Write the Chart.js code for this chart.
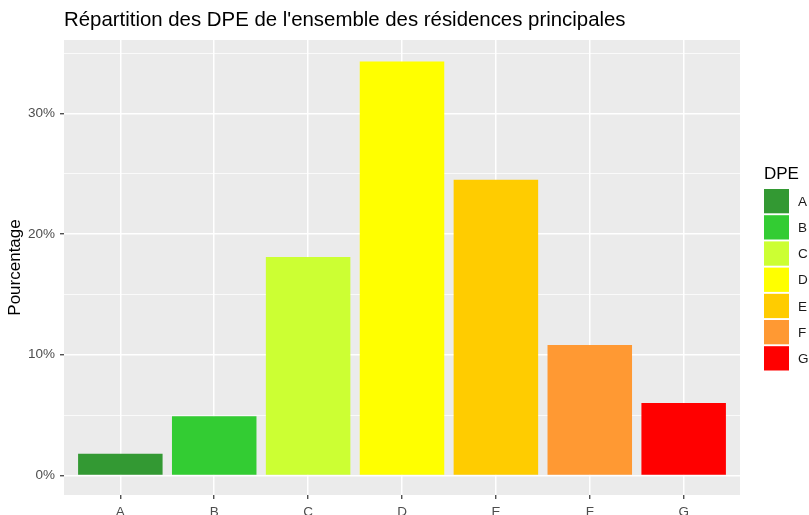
<!DOCTYPE html>
<html>
<head>
<meta charset="utf-8">
<script src="https://cdn.jsdelivr.net/npm/chart.js@4.4.1/dist/chart.umd.min.js"></script>
<style>
    html, body { margin: 0; padding: 0; background: #ffffff; }
    #wrap { width: 809px; height: 515px; }
</style>
</head>
<body>
<div id="wrap"><canvas id="dpeChart" width="809" height="515"></canvas></div>
<script>
    // DPE classes and their share of main residences (%)
    const categories = ['A', 'B', 'C', 'D', 'E', 'F', 'G'];
    const shares = [1.8, 4.9, 18.1, 34.3, 24.5, 10.8, 6.0];
    const barColors = ['#339933', '#33CC33', '#CCFF33', '#FFFF00', '#FFCC00', '#FF9933', '#FF0000'];
    const yTickValues = [0, 5, 10, 15, 20, 25, 30, 35];

    const FONT = "'Liberation Sans', Arial, sans-serif";

    // grey plotting panel behind everything
    const panelBackground = {
        id: 'panelBackground',
        beforeDraw(chart) {
            const { ctx, chartArea: a } = chart;
            ctx.save();
            ctx.fillStyle = '#EBEBEB';
            ctx.fillRect(a.left, a.top, a.right - a.left, a.bottom - a.top);
            ctx.restore();
        }
    };

    // ggplot-like legend on the right
    const sideLegend = {
        id: 'sideLegend',
        afterDraw(chart) {
            const { ctx } = chart;
            const x = 764, top = 189, pitch = 26.2, keyW = 25, keyH = 24.3;
            ctx.save();
            ctx.fillStyle = '#000000';
            ctx.font = '17px ' + FONT;
            ctx.textAlign = 'left';
            ctx.textBaseline = 'alphabetic';
            ctx.fillText('DPE', x, 179);

            ctx.font = '13.5px ' + FONT;
            ctx.textBaseline = 'middle';
            categories.forEach((c, i) => {
                const y = top + i * pitch;
                ctx.fillStyle = barColors[i];
                ctx.fillRect(x, y, keyW, keyH);
                ctx.fillStyle = '#1a1a1a';
                ctx.fillText(c, 798, y + keyH / 2 + 1);
            });
            ctx.restore();
        }
    };

    new Chart(document.getElementById('dpeChart'), {
        type: 'bar',
        data: {
            datasets: [
                {
                    data: categories.map((c, i) => ({ x: i + 1, y: shares[i] })),
                    backgroundColor: barColors,
                    borderWidth: 0,
                    barPercentage: 0.9,
                    categoryPercentage: 1.0
                }
            ]
        },
        options: {
            responsive: false,
            animation: false,
            layout: { padding: { left: 0, right: 69, top: 0, bottom: 0 } },
            plugins: {
                legend: { display: false },
                tooltip: { enabled: false },
                title: {
                    display: true,
                    fullSize: false,
                    align: 'start',
                    text: "Répartition des DPE de l'ensemble des résidences principales",
                    color: '#000000',
                    font: { family: FONT, size: 20.4, weight: 'normal', lineHeight: 1.2 },
                    padding: { top: 8, bottom: 7.5 }
                }
            },
            scales: {
                x: {
                    type: 'linear',
                    min: 0.4,
                    max: 7.6,
                    offset: false,
                    afterBuildTicks: scale => {
                        scale.ticks = categories.map((c, i) => ({ value: i + 1 }));
                    },
                    afterFit: scale => { scale.height = 20; },
                    ticks: {
                        autoSkip: false,
                        maxRotation: 0,
                        padding: 5,
                        color: '#4D4D4D',
                        font: { family: FONT, size: 13.5 },
                        callback: v => categories[v - 1]
                    },
                    grid: {
                        offset: false,
                        color: '#FFFFFF',
                        lineWidth: 1.5,
                        drawTicks: true,
                        tickLength: 4,
                        tickColor: '#333333',
                        tickWidth: 1.2
                    },
                    border: { display: false }
                },
                y: {
                    min: -1.62,
                    max: 36.08,
                    afterBuildTicks: scale => {
                        scale.ticks = yTickValues.map(v => ({ value: v }));
                    },
                    afterFit: scale => { scale.width = 64; },
                    ticks: {
                        autoSkip: false,
                        padding: 5,
                        color: '#4D4D4D',
                        font: { family: FONT, size: 13.5 },
                        callback: v => (v % 10 === 0 ? v + '%' : '')
                    },
                    grid: {
                        color: '#FFFFFF',
                        lineWidth: ctx => (ctx.tick && ctx.tick.value % 10 === 0 ? 1.5 : 0.75),
                        drawTicks: true,
                        tickLength: 4,
                        tickColor: ctx => (ctx.tick && ctx.tick.value % 10 === 0 ? '#333333' : 'rgba(0,0,0,0)'),
                        tickWidth: 1.2
                    },
                    border: { display: false },
                    title: {
                        display: true,
                        text: 'Pourcentage',
                        color: '#000000',
                        font: { family: FONT, size: 17, lineHeight: 1.2 },
                        padding: { top: 5, bottom: 0 }
                    }
                }
            }
        },
        plugins: [panelBackground, sideLegend]
    });
</script>
</body>
</html>
